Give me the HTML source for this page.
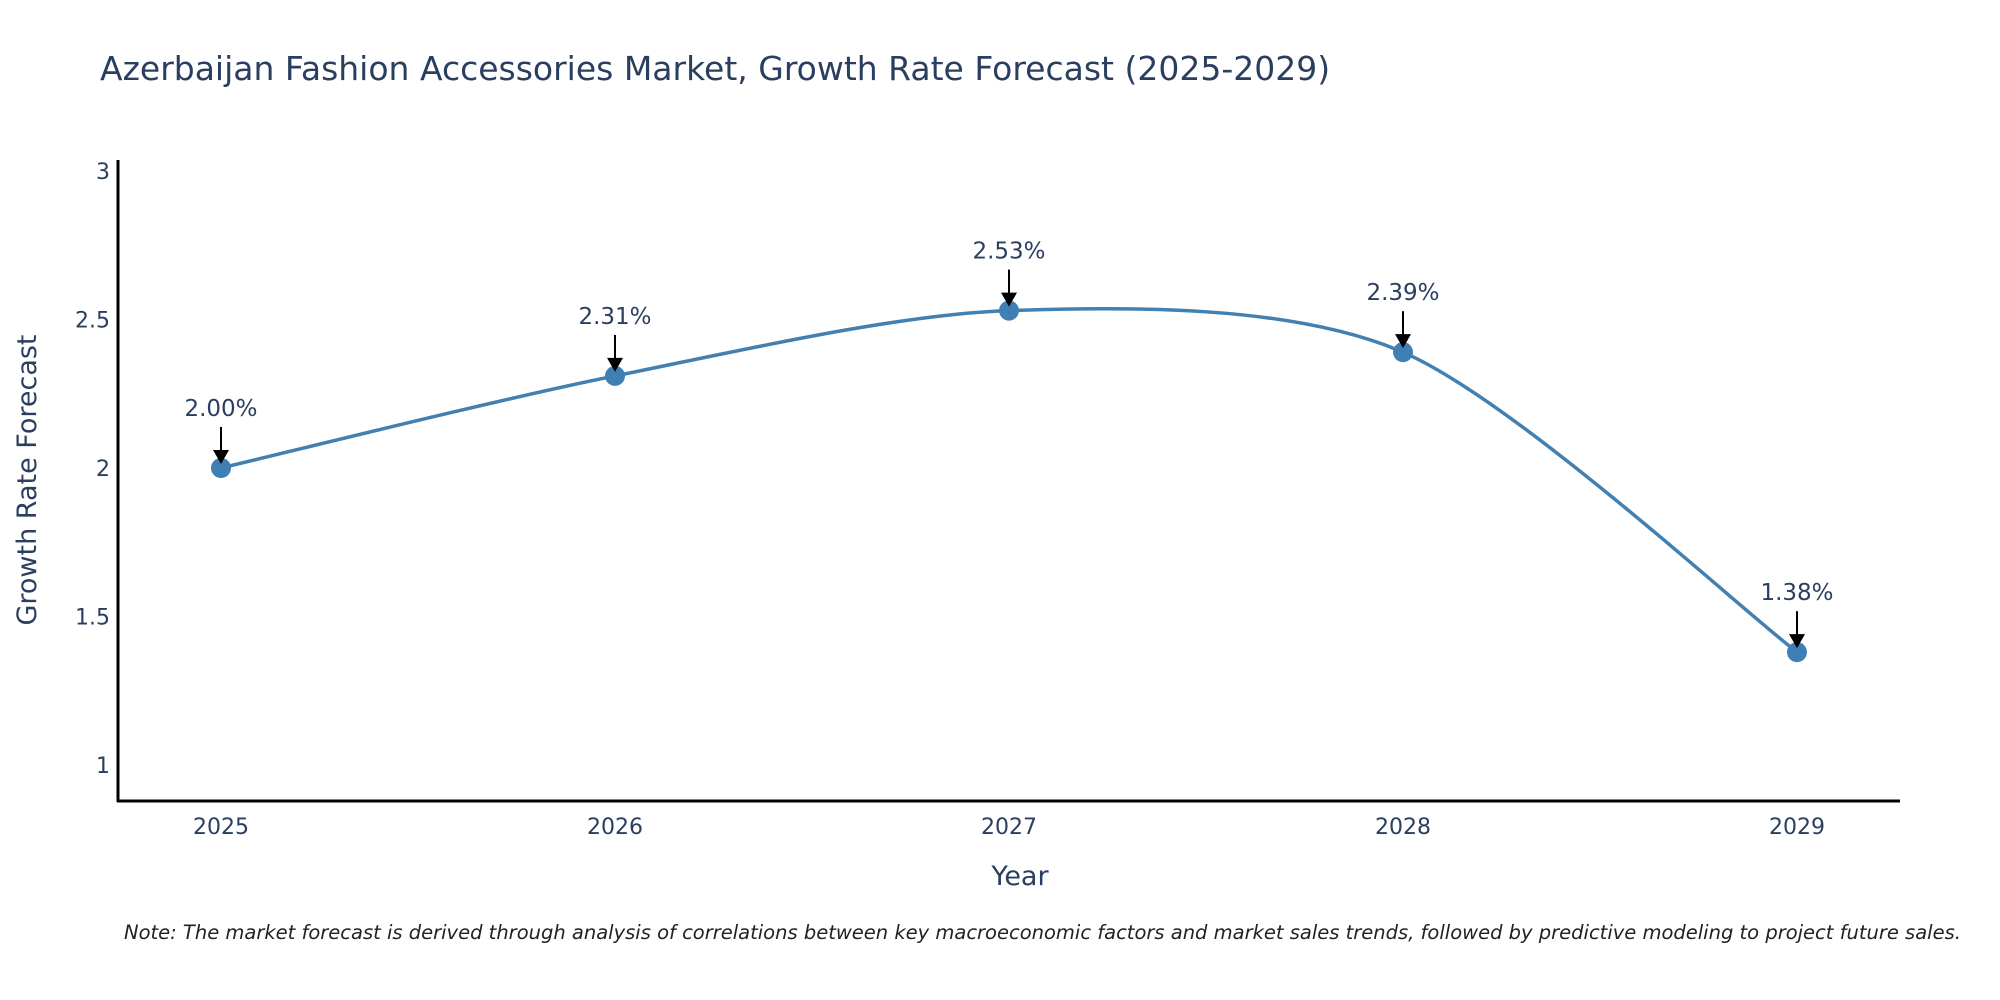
<!DOCTYPE html>
<html><head><meta charset="utf-8"><style>
body{margin:0;background:#fff}
svg{display:block;font-family:"DejaVu Sans","Liberation Sans",sans-serif}
</style></head><body>
<svg id="chart" width="2000" height="1000" viewBox="0 0 2000 1000">
<text x="100" y="80" font-size="33" fill="#2a3f5f">Azerbaijan Fashion Accessories Market, Growth Rate Forecast (2025-2029)</text>
<g id="yticks"></g>
<g id="xticks"></g>
<path id="line" fill="none" stroke="#4180b0" stroke-width="3.5"/>
<g id="marks"></g>
<g id="annots"></g>
<line x1="118" y1="160" x2="118" y2="802" stroke="#000" stroke-width="3"/>
<line x1="117" y1="801" x2="1900" y2="801" stroke="#000" stroke-width="3"/>
<text x="1020" y="885" font-size="27" fill="#2a3f5f" text-anchor="middle">Year</text>
<text transform="translate(36,480) rotate(-90)" font-size="27" fill="#2a3f5f" text-anchor="middle">Growth Rate Forecast</text>
<text x="124" y="939" font-size="19.5" font-style="italic" fill="#222">Note: The market forecast is derived through analysis of correlations between key macroeconomic factors and market sales trends, followed by predictive modeling to project future sales.</text>
</svg>
<script>
const years=["2025","2026","2027","2028","2029"];
const growth=[2.00,2.31,2.53,2.39,1.38];
const yTicks=[1,1.5,2,2.5,3];
const yTickLabels=["1","1.5","2","2.5","3"];
const NS="http://www.w3.org/2000/svg";
function xs(i){return 221+i*394;}
function ys(v){return 468-(v-2)*297;}
function mk(tag,attrs,parent,text){const e=document.createElementNS(NS,tag);for(const k in attrs)e.setAttribute(k,attrs[k]);if(text!==undefined)e.textContent=text;parent.appendChild(e);return e;}
const yt=document.getElementById('yticks');
yTicks.forEach((t,i)=>{const e=mk('text',{x:110,y:ys(t)+8,'font-size':22,fill:'#2a3f5f','text-anchor':'end'},yt,yTickLabels[i]);

});
const xt=document.getElementById('xticks');
years.forEach((y,i)=>{const e=mk('text',{x:xs(i),y:834,'font-size':22,fill:'#2a3f5f','text-anchor':'middle'},xt,y);

});
const P=growth.map((v,i)=>[xs(i),ys(v)]);
let d='M'+P[0][0]+','+P[0][1];
const k=1/7;
for(let i=0;i<P.length-1;i++){const p0=P[Math.max(i-1,0)],p1=P[i],p2=P[i+1],p3=P[Math.min(i+2,P.length-1)];
const c1=[p1[0]+(p2[0]-p0[0])*k,p1[1]+(p2[1]-p0[1])*k],c2=[p2[0]-(p3[0]-p1[0])*k,p2[1]-(p3[1]-p1[1])*k];
d+=` C${c1[0]},${c1[1]} ${c2[0]},${c2[1]} ${p2[0]},${p2[1]}`;}
document.getElementById('line').setAttribute('d',d);
const mg=document.getElementById('marks'),ag=document.getElementById('annots');
growth.forEach((v,i)=>{const x=xs(i),y=ys(v);
const c=mk('circle',{cx:x,cy:y,r:10,fill:'#3f7fb4'},mg);


const l=mk('line',{x1:x,y1:y-41,x2:x,y2:y-16,stroke:'#000','stroke-width':2},ag);


const h=mk('polygon',{points:`${x-8},${y-18} ${x+8},${y-18} ${x},${y-4}`,fill:'#000'},ag);


const t=mk('text',{x:x,y:y-52,'font-size':23,fill:'#2a3f5f','text-anchor':'middle'},ag,v.toFixed(2)+'%');

});
</script>
</body></html>
